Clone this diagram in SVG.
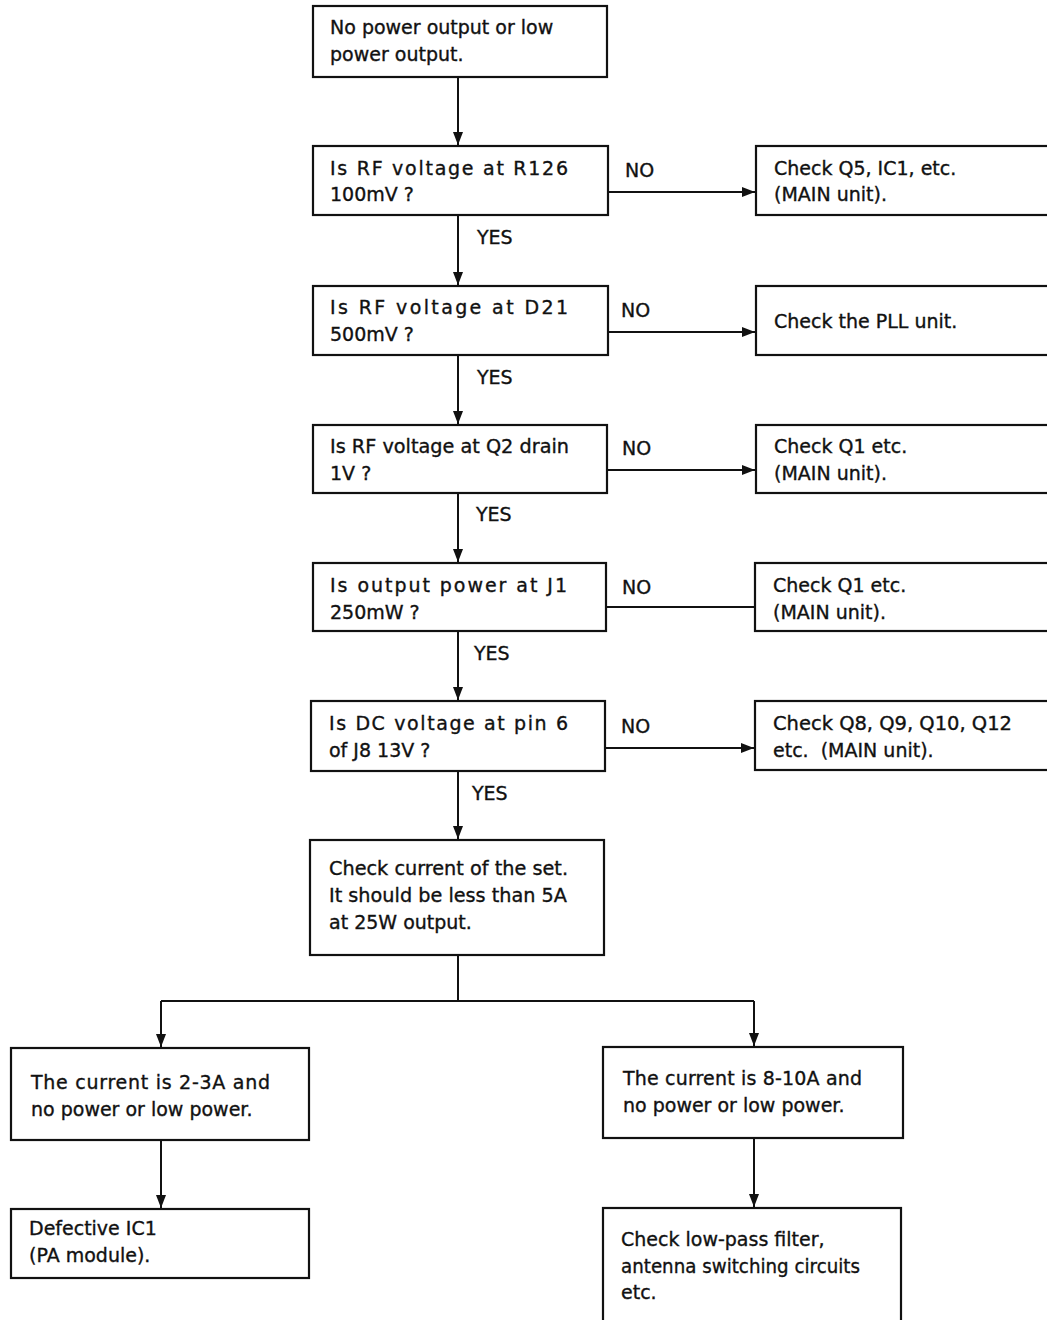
<svg xmlns="http://www.w3.org/2000/svg" width="1047" height="1320" viewBox="0 0 1047 1320">
  <style>
    .box { fill: #ffffff; stroke: #111111; stroke-width: 2.2; }
    .lbl { font-family: "DejaVu Sans", "Liberation Sans", sans-serif; font-size: 19px; fill: #111111; stroke: #111111; stroke-width: 0.35; }
    .wire { fill: none; stroke: #111111; stroke-width: 2; }
  </style>
  <defs>
    <marker id="arrow" markerUnits="userSpaceOnUse" markerWidth="14" markerHeight="10" refX="13" refY="5" orient="auto">
      <path d="M0,0 L13,5 L0,10 z" fill="#111111"/>
    </marker>
  </defs>
  <rect width="1047" height="1320" fill="#ffffff"/>

  <!-- connectors -->
  <g id="connectors">
    <path class="wire" d="M458,77 V145" marker-end="url(#arrow)"/>
    <path class="wire" d="M458,215 V285" marker-end="url(#arrow)"/>
    <path class="wire" d="M458,355 V424" marker-end="url(#arrow)"/>
    <path class="wire" d="M458,493 V562" marker-end="url(#arrow)"/>
    <path class="wire" d="M458,631 V700" marker-end="url(#arrow)"/>
    <path class="wire" d="M458,771 V839" marker-end="url(#arrow)"/>

    <path class="wire" d="M608,192 H755" marker-end="url(#arrow)"/>
    <path class="wire" d="M608,332 H755" marker-end="url(#arrow)"/>
    <path class="wire" d="M607,470 H755" marker-end="url(#arrow)"/>
    <path class="wire" d="M606,607 H755"/>
    <path class="wire" d="M605,748 H754" marker-end="url(#arrow)"/>

    <path class="wire" d="M458,955 V1001"/>
    <path class="wire" d="M161,1001 H754"/>
    <path class="wire" d="M161,1001 V1047" marker-end="url(#arrow)"/>
    <path class="wire" d="M754,1001 V1046" marker-end="url(#arrow)"/>
    <path class="wire" d="M161,1140 V1208" marker-end="url(#arrow)"/>
    <path class="wire" d="M754,1138 V1207" marker-end="url(#arrow)"/>

    <text class="lbl" x="625" y="177">NO</text>
    <text class="lbl" x="621" y="317">NO</text>
    <text class="lbl" x="622" y="455">NO</text>
    <text class="lbl" x="622" y="594">NO</text>
    <text class="lbl" x="621" y="733">NO</text>

    <text class="lbl" x="477" y="244">YES</text>
    <text class="lbl" x="477" y="384">YES</text>
    <text class="lbl" x="476" y="521">YES</text>
    <text class="lbl" x="474" y="660">YES</text>
    <text class="lbl" x="472" y="800">YES</text>
  </g>

  <!-- main column -->
  <g id="start">
    <rect class="box" x="313" y="6" width="294" height="71"/>
    <text class="lbl" x="330" y="34">No power output or low</text>
    <text class="lbl" x="330" y="61">power output.</text>
  </g>
  <g id="q-r126">
    <rect class="box" x="313" y="146" width="295" height="69"/>
    <text class="lbl" x="330" y="175" textLength="238" lengthAdjust="spacing">Is RF voltage at R126</text>
    <text class="lbl" x="330" y="201">100mV ?</text>
  </g>
  <g id="q-d21">
    <rect class="box" x="313" y="286" width="295" height="69"/>
    <text class="lbl" x="330" y="314" textLength="238" lengthAdjust="spacing">Is RF voltage at D21</text>
    <text class="lbl" x="330" y="341">500mV ?</text>
  </g>
  <g id="q-q2">
    <rect class="box" x="313" y="425" width="294" height="68"/>
    <text class="lbl" x="330" y="453" textLength="239" lengthAdjust="spacingAndGlyphs">Is RF voltage at Q2 drain</text>
    <text class="lbl" x="330" y="480">1V ?</text>
  </g>
  <g id="q-j1">
    <rect class="box" x="313" y="563" width="293" height="68"/>
    <text class="lbl" x="330" y="592" textLength="237" lengthAdjust="spacing">Is output power at J1</text>
    <text class="lbl" x="330" y="619">250mW ?</text>
  </g>
  <g id="q-j8">
    <rect class="box" x="311" y="701" width="294" height="70"/>
    <text class="lbl" x="329" y="730" textLength="239" lengthAdjust="spacing">Is DC voltage at pin 6</text>
    <text class="lbl" x="329" y="757">of J8 13V ?</text>
  </g>
  <g id="check-current">
    <rect class="box" x="310" y="840" width="294" height="115"/>
    <text class="lbl" x="329" y="875" textLength="239" lengthAdjust="spacingAndGlyphs">Check current of the set.</text>
    <text class="lbl" x="329" y="902" textLength="238" lengthAdjust="spacingAndGlyphs">It should be less than 5A</text>
    <text class="lbl" x="329" y="929">at 25W output.</text>
  </g>

  <!-- NO branches -->
  <g id="fix-q5">
    <rect class="box" x="756" y="146" width="300" height="69"/>
    <text class="lbl" x="774" y="175">Check Q5, IC1, etc.</text>
    <text class="lbl" x="774" y="201">(MAIN unit).</text>
  </g>
  <g id="fix-pll">
    <rect class="box" x="756" y="286" width="300" height="69"/>
    <text class="lbl" x="774" y="328">Check the PLL unit.</text>
  </g>
  <g id="fix-q1-a">
    <rect class="box" x="756" y="425" width="300" height="68"/>
    <text class="lbl" x="774" y="453">Check Q1 etc.</text>
    <text class="lbl" x="774" y="480">(MAIN unit).</text>
  </g>
  <g id="fix-q1-b">
    <rect class="box" x="755" y="563" width="300" height="68"/>
    <text class="lbl" x="773" y="592">Check Q1 etc.</text>
    <text class="lbl" x="773" y="619">(MAIN unit).</text>
  </g>
  <g id="fix-q8">
    <rect class="box" x="755" y="701" width="300" height="69"/>
    <text class="lbl" x="773" y="730" textLength="239" lengthAdjust="spacingAndGlyphs">Check Q8, Q9, Q10, Q12</text>
    <text class="lbl" x="773" y="757" xml:space="preserve">etc.  (MAIN unit).</text>
  </g>

  <!-- current outcomes -->
  <g id="low-current">
    <rect class="box" x="11" y="1048" width="298" height="92"/>
    <text class="lbl" x="31" y="1089" textLength="239" lengthAdjust="spacing">The current is 2-3A and</text>
    <text class="lbl" x="31" y="1116">no power or low power.</text>
  </g>
  <g id="defective-ic1">
    <rect class="box" x="11" y="1209" width="298" height="69"/>
    <text class="lbl" x="29" y="1235">Defective IC1</text>
    <text class="lbl" x="29" y="1262">(PA module).</text>
  </g>
  <g id="high-current">
    <rect class="box" x="603" y="1047" width="300" height="91"/>
    <text class="lbl" x="623" y="1085" textLength="239" lengthAdjust="spacing">The current is 8-10A and</text>
    <text class="lbl" x="623" y="1112">no power or low power.</text>
  </g>
  <g id="check-lpf">
    <rect class="box" x="603" y="1208" width="298" height="130"/>
    <text class="lbl" x="621" y="1246">Check low-pass filter,</text>
    <text class="lbl" x="621" y="1273" textLength="239" lengthAdjust="spacingAndGlyphs">antenna switching circuits</text>
    <text class="lbl" x="621" y="1299">etc.</text>
  </g>
</svg>
